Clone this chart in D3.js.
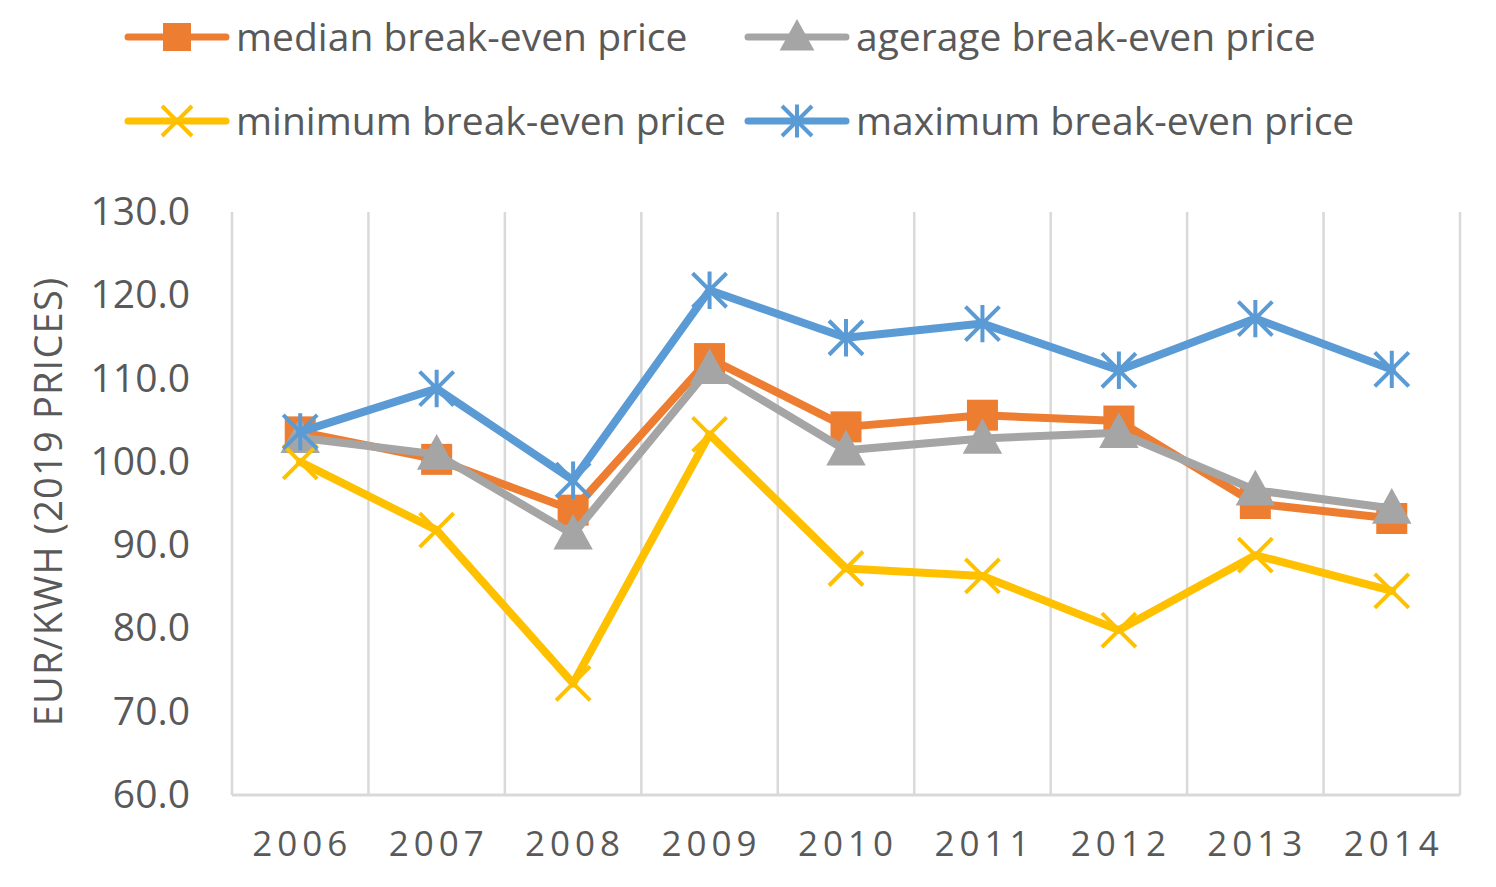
<!DOCTYPE html>
<html>
<head>
<meta charset="utf-8">
<script src="https://cdn.jsdelivr.net/npm/d3@7"></script>
<style>
  body { margin: 0; background: #fff; }
</style>
</head>
<body>
<div id="chart"></div>
<script>
const years = ['2006', '2007', '2008', '2009', '2010', '2011', '2012', '2013', '2014']
const median = [103.6, 100.3, 94.2, 112.4, 104.2, 105.6, 104.9, 95.0, 93.2]
const average = [102.9, 100.9, 91.3, 111.2, 101.4, 102.8, 103.5, 96.6, 94.4]
const minimum = [100.0, 91.8, 73.4, 103.3, 87.2, 86.3, 79.8, 88.8, 84.5]
const maximum = [103.6, 108.8, 97.8, 120.6, 114.9, 116.6, 111.0, 117.2, 111.1]
const yTicks = [60, 70, 80, 90, 100, 110, 120, 130]

const width = 1496, height = 887
const margin = { top: 212, right: 36, bottom: 92, left: 232 }

const series = [
    { name: 'median break-even price', values: median, color: '#ED7D31', marker: 'square' },
    { name: 'agerage break-even price', values: average, color: '#A5A5A5', marker: 'triangle' },
    { name: 'minimum break-even price', values: minimum, color: '#FFC000', marker: 'x' },
    { name: 'maximum break-even price', values: maximum, color: '#5B9BD5', marker: 'star' }
]

const svg = d3.select('#chart').append('svg')
    .attr('width', width)
    .attr('height', height)
    .attr('font-family', '"Open Sans", sans-serif')

const x = d3.scaleBand()
    .domain(years)
    .range([margin.left, width - margin.right])

const y = d3.scaleLinear()
    .domain([60, 130])
    .range([height - margin.bottom, margin.top])

// vertical gridlines at category boundaries
const bounds = years.map(d => x(d)).concat([x.range()[1]])
svg.append('g')
    .selectAll('line')
    .data(bounds)
    .join('line')
    .attr('x1', d => d).attr('x2', d => d)
    .attr('y1', y(130)).attr('y2', y(60))
    .attr('stroke', '#d9d9d9')
    .attr('stroke-width', 2.5)

// axis line
svg.append('line')
    .attr('x1', margin.left).attr('x2', width - margin.right)
    .attr('y1', y(60)).attr('y2', y(60))
    .attr('stroke', '#d9d9d9').attr('stroke-width', 3)

// y axis
const yAxis = svg.append('g')
    .attr('transform', `translate(${margin.left},0)`)
    .call(d3.axisLeft(y).tickValues(yTicks).tickFormat(d3.format('.1f')).tickSize(0).tickPadding(42))
yAxis.select('.domain').remove()
yAxis.selectAll('text')
    .attr('font-size', 39)
    .attr('fill', '#595959')
    .attr('font-family', '"Open Sans", sans-serif')

// x axis
const xAxis = svg.append('g')
    .attr('transform', `translate(0,${y(60)})`)
    .call(d3.axisBottom(x).tickSize(0).tickPadding(36))
xAxis.select('.domain').remove()
xAxis.selectAll('text')
    .attr('font-size', 35)
    .attr('fill', '#595959')
    .attr('letter-spacing', 5)
    .attr('dx', 2)
    .attr('font-family', '"Open Sans", sans-serif')

// y axis title
svg.append('text')
    .attr('transform', `translate(62,${(y(60) + y(130)) / 2 - 2}) rotate(-90)`)
    .attr('text-anchor', 'middle')
    .attr('font-size', 38)
    .attr('letter-spacing', 1.2)
    .attr('fill', '#595959')
    .text('EUR/KWH (2019 PRICES)')

function drawMarker(g, type, color, size) {
    if (type === 'square') {
        g.append('rect')
            .attr('x', -size / 2).attr('y', -size / 2)
            .attr('width', size).attr('height', size)
            .attr('fill', color)
    } else if (type === 'triangle') {
        g.append('path')
            .attr('d', `M0,${-size * 0.6}L${size * 0.58},${size * 0.45}L${-size * 0.58},${size * 0.45}Z`)
            .attr('fill', color)
    } else if (type === 'x') {
        const s = size / 2
        g.append('path')
            .attr('d', `M${-s},${-s}L${s},${s}M${-s},${s}L${s},${-s}`)
            .attr('stroke', color).attr('stroke-width', 4).attr('fill', 'none')
    } else {
        const s = size / 2
        g.append('path')
            .attr('d', `M${-s},${-s}L${s},${s}M${-s},${s}L${s},${-s}M0,${-s * 1.1}L0,${s * 1.1}`)
            .attr('stroke', color).attr('stroke-width', 4).attr('fill', 'none')
    }
}

const line = d3.line()
    .x((d, i) => x(years[i]) + x.bandwidth() / 2)
    .y(d => y(d))

series.forEach(s => {
    const g = svg.append('g')
    g.append('path')
        .datum(s.values)
        .attr('d', line)
        .attr('fill', 'none')
        .attr('stroke', s.color)
        .attr('stroke-width', 8)
        .attr('stroke-linejoin', 'round')
        .attr('stroke-linecap', 'round')
    s.values.forEach((v, i) => {
        const m = g.append('g')
            .attr('transform', `translate(${x(years[i]) + x.bandwidth() / 2},${y(v)})`)
        drawMarker(m, s.marker, s.color, s.marker === 'square' ? 31 : 34)
    })
})

// legend
const legendPos = [[128, 37], [748, 37], [128, 121], [748, 121]]
series.forEach((s, i) => {
    const lg = svg.append('g').attr('transform', `translate(${legendPos[i][0]},${legendPos[i][1]})`)
    lg.append('line')
        .attr('x1', 0).attr('x2', 98)
        .attr('stroke', s.color).attr('stroke-width', 7)
        .attr('stroke-linecap', 'round')
    const m = lg.append('g').attr('transform', 'translate(49,0)')
    drawMarker(m, s.marker, s.color, s.marker === 'square' ? 28 : 30)
    lg.append('text')
        .attr('x', 108)
        .attr('y', 0)
        .attr('dy', '0.35em')
        .attr('font-size', 39)
        .attr('fill', '#595959')
        .text(s.name)
})
</script>
</body>
</html>
